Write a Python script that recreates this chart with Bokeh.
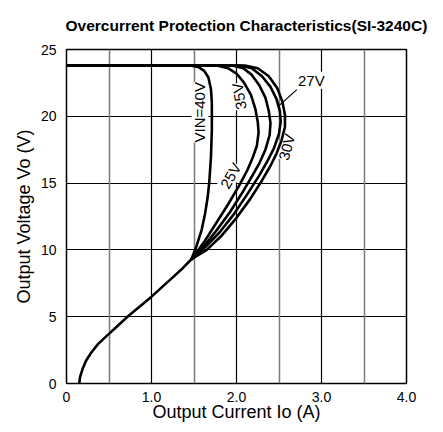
from bokeh.plotting import figure
from bokeh.models import (ColumnDataSource, LabelSet, Grid, FixedTicker, Title, Range1d)
from bokeh.core.properties import value
from bokeh.embed import file_html
from bokeh.resources import INLINE
import math

# ---- data ----
base_x = [0.15, 0.16, 0.19, 0.23, 0.29, 0.37, 0.48, 0.60, 0.73, 0.87, 1.00, 1.13, 1.26, 1.37, 1.47]
base_y = [0.0, 0.5, 1.1, 1.7, 2.3, 2.95, 3.6, 4.3, 5.07, 5.8, 6.5, 7.25, 8.0, 8.65, 9.3]

v40_x = [0.0, 1.45, 1.55, 1.62, 1.67, 1.70, 1.71, 1.71, 1.70, 1.68, 1.66, 1.63, 1.59, 1.53, 1.47]
v40_y = [23.8, 23.8, 23.7, 23.4, 22.9, 22.0, 21.0, 19.0, 17.0, 15.1, 13.9, 12.7, 11.5, 10.3, 9.3]

v35_x = [0.0, 1.77, 1.90, 2.00, 2.09, 2.17, 2.22, 2.25, 2.26, 2.24, 2.19, 2.13, 2.03, 1.90, 1.76, 1.62, 1.47]
v35_y = [23.8, 23.8, 23.6, 23.2, 22.5, 21.6, 20.6, 19.6, 18.8, 17.8, 16.9, 16.0, 14.8, 13.4, 12.0, 10.6, 9.3]

v25_x = [0.0, 1.95, 2.08, 2.18, 2.27, 2.34, 2.38, 2.40, 2.39, 2.34, 2.27, 2.19, 2.06, 1.92, 1.77, 1.62, 1.47]
v25_y = [23.8, 23.8, 23.6, 23.1, 22.3, 21.4, 20.4, 19.5, 18.6, 17.5, 16.5, 15.6, 14.2, 12.8, 11.5, 10.3, 9.3]

v27_x = [0.0, 2.04, 2.18, 2.30, 2.40, 2.47, 2.51, 2.52, 2.50, 2.44, 2.36, 2.27, 2.12, 1.96, 1.80, 1.63, 1.47]
v27_y = [23.8, 23.8, 23.6, 23.0, 22.2, 21.3, 20.4, 19.6, 18.7, 17.6, 16.6, 15.6, 14.1, 12.6, 11.3, 10.2, 9.3]

v30_x = [0.0, 2.10, 2.25, 2.38, 2.48, 2.54, 2.57, 2.57, 2.53, 2.47, 2.40, 2.30, 2.16, 2.00, 1.83, 1.65, 1.47]
v30_y = [23.8, 23.8, 23.6, 23.0, 22.1, 21.1, 20.1, 19.2, 18.2, 17.2, 16.3, 15.2, 13.8, 12.4, 11.1, 10.0, 9.3]

label_text = ["VIN=40V", "35V", "25V", "30V", "27V"]
label_x = [1.57, 2.03, 1.93, 2.59, 2.88]
label_y = [20.3, 21.5, 15.55, 17.7, 22.7]
label_angle_deg = [90, 100, 60, 75, 0]

leader_x = [2.71, 2.50]
leader_y = [22.0, 20.8]

x_ticks = [0, 1, 2, 3, 4]
x_tick_labels = ["0", "1.0", "2.0", "3.0", "4.0"]
x_minor_grid = [0.5, 1.5, 2.5, 3.5]
y_ticks = [0, 5, 10, 15, 20, 25]

TITLE = "Overcurrent Protection Characteristics(SI-3240C)"
FONT = "Liberation Sans"

p = figure(width=435, height=424, output_backend="svg", toolbar_location=None,
           x_range=Range1d(0, 4), y_range=Range1d(0, 25),
           min_border_left=66, min_border_right=29, min_border_top=49, min_border_bottom=38,
           title=None)

title = Title(text=TITLE, text_font=FONT, text_font_size="15.5px",
              text_font_style="bold", text_color="black", align="left", offset=-1,
              vertical_align="top", standoff=28)
p.add_layout(title, "above")

p.outline_line_color = "black"
p.outline_line_width = 1.5
p.background_fill_color = "white"
p.border_fill_color = "white"

# axes
p.xaxis.ticker = FixedTicker(ticks=x_ticks)
p.xaxis.major_label_overrides = {t: l for t, l in zip(x_ticks, x_tick_labels)}
p.yaxis.ticker = FixedTicker(ticks=y_ticks)
for ax in (p.xaxis[0], p.yaxis[0]):
    ax.axis_line_color = None
    ax.major_tick_line_color = None
    ax.minor_tick_line_color = None
    ax.major_label_text_font = FONT
    ax.major_label_text_font_size = "14px"
    ax.major_label_text_color = "black"
    ax.axis_label_text_font = FONT
    ax.axis_label_text_font_size = "18px"
    ax.axis_label_text_font_style = "normal"
    ax.axis_label_text_color = "black"
p.xaxis.major_label_standoff = 2
p.xaxis.axis_label_standoff = -3
p.yaxis.major_label_standoff = 4
p.yaxis.axis_label_standoff = 4
p.xaxis.axis_label = "Output Current Io (A)"
p.yaxis.axis_label = "Output Voltage Vo (V)"

# grids
p.xgrid.ticker = FixedTicker(ticks=[1, 2, 3])
p.xgrid.grid_line_color = "black"
p.xgrid.grid_line_width = 1.2
p.ygrid.ticker = FixedTicker(ticks=[5, 10, 15, 20])
p.ygrid.grid_line_color = "black"
p.ygrid.grid_line_width = 1.2
g2 = Grid(dimension=0, ticker=FixedTicker(ticks=x_minor_grid), grid_line_color="#7a7a7a",
          grid_line_width=1.5)
p.add_layout(g2)

# curve labels (white background interrupts grid lines)
lab_src = ColumnDataSource(dict(x=label_x, y=label_y, text=label_text,
                                angle=[math.radians(a) for a in label_angle_deg]))
labels = LabelSet(x="x", y="y", text="text", angle="angle", source=lab_src,
                  text_font=value(FONT), text_font_size=value("15px"), text_color="black",
                  text_align="center", text_baseline="middle",
                  background_fill_color="white", level="underlay")
p.add_layout(labels)

LW = 2.6
p.line(base_x, base_y, line_color="black", line_width=LW, line_join="round", line_cap="round")
for xs, ys in [(v40_x, v40_y), (v35_x, v35_y), (v25_x, v25_y), (v27_x, v27_y), (v30_x, v30_y)]:
    p.line(xs, ys, line_color="black", line_width=LW, line_join="round", line_cap="round")
p.line(leader_x, leader_y, line_color="black", line_width=1.2)

open("out.html", "w").write(file_html(p, INLINE))
